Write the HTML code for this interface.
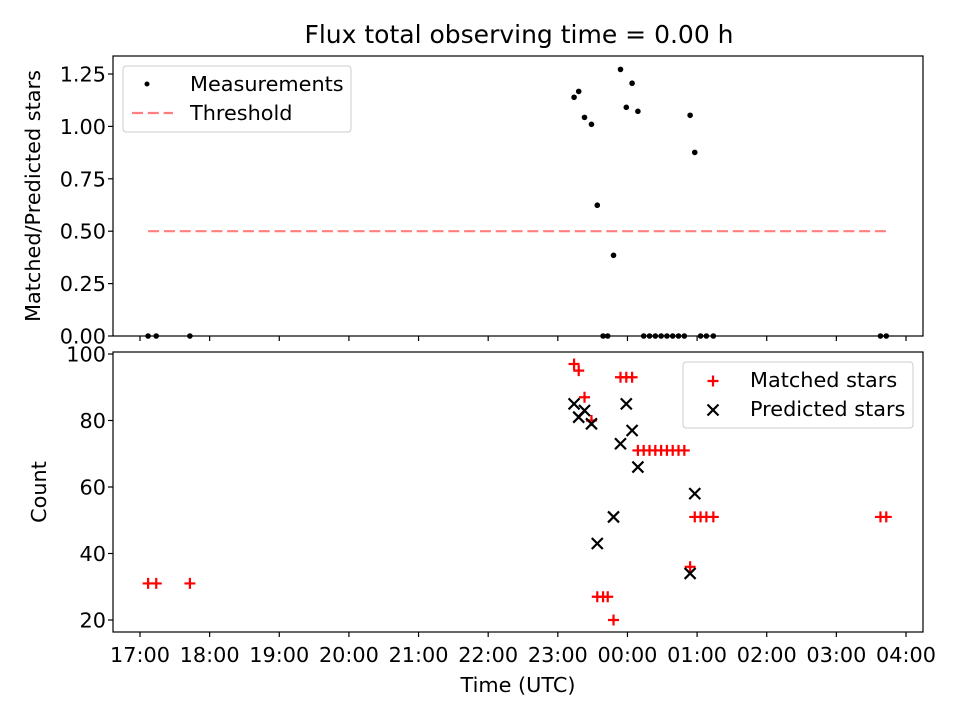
<!DOCTYPE html>
<html><head><meta charset="utf-8"><style>
body{margin:0;background:#fff;}
svg{display:block;font-family:"DejaVu Sans","Liberation Sans",sans-serif;}
</style></head><body>
<svg id="chart" width="960" height="720"></svg>
<script>
// minutes since 17:00 UTC
const times = [7,14,43,374,378,383,389,394,399,403,408,414,419,424,429,434,439,444,449,454,459,464,469,474,478,483,488,494,498,503,508,638,643];
const matched = [31,31,31,97,95,87,80,27,27,27,20,93,93,93,71,71,71,71,71,71,71,71,71,36,51,51,51,51,null,null,null,51,51];
const predicted = [null,null,null,85,81,83,79,43,null,null,51,73,85,77,66,null,null,null,null,null,null,null,null,34,58,null,null,null,null,null,null,null,null];
const ratio = [0,0,0,1.139,1.167,1.043,1.010,0.624,0,0,0.385,1.272,1.091,1.206,1.072,0,0,0,0,0,0,0,0,1.053,0.876,0,0,0,null,null,null,0,0];
const threshold = 0.5;
const xTickLabels = ["17:00","18:00","19:00","20:00","21:00","22:00","23:00","00:00","01:00","02:00","03:00","04:00"];
const topTicks = [0,0.25,0.5,0.75,1.0,1.25];
const botTicks = [20,40,60,80,100];
</script>
<script>
const NS="http://www.w3.org/2000/svg";
const svg=document.getElementById('chart');
function el(t,a,p){const e=document.createElementNS(NS,t);for(const k in a)e.setAttribute(k,a[k]);(p||svg).appendChild(e);return e;}
const L=113,R=923,T1=56,B1=336,T2=352,B2=632;
const FS='20.8';
const DASH='11,4.8';
const xs=m=>140+m*(766/660);
const y1=v=>336-v*209.6;
const y2=v=>620-(v-20)*3.325;

let t=el('text',{x:519,y:43,'text-anchor':'middle','font-size':'25'});t.textContent="Flux total observing time = 0.00 h";


// top panel
let g1=el('g',{});

let ln=el('line',{x1:xs(times[0]),x2:xs(times[times.length-1]),y1:y1(threshold),y2:y1(threshold),stroke:'#ff7f7f','stroke-width':2.2,'stroke-dasharray':DASH},g1);

ratio.forEach((v,i)=>{if(v===null)return;const c=el('circle',{cx:xs(times[i]),cy:y1(v),r:2.8,fill:'#000'},g1);
});
el('rect',{x:L,y:T1,width:R-L,height:B1-T1,fill:'none',stroke:'#000','stroke-width':1.2},g1);
topTicks.forEach(v=>{const y=y1(v);el('line',{x1:L-5,x2:L,y1:y,y2:y,stroke:'#000','stroke-width':1.2},g1);
const tx=el('text',{x:L-7,y:y+7.5,'text-anchor':'end','font-size':FS},g1);tx.textContent=v.toFixed(2);
});
xTickLabels.forEach((s,i)=>{const x=xs(i*60);el('line',{x1:x,x2:x,y1:B1,y2:B1+5,stroke:'#000','stroke-width':1.2},g1);});
let yt=el('text',{transform:'translate(40,196) rotate(-90)','text-anchor':'middle','font-size':FS},g1);yt.textContent="Matched/Predicted stars";

// legend top
let lg=el('g',{},g1);
el('rect',{x:123,y:66,width:228,height:66,rx:3,fill:'#fff',stroke:'#ccc'},lg);
el('circle',{cx:147,cy:84,r:2.5,fill:'#000'},lg);
let lt=el('text',{x:190,y:91,'font-size':FS},lg);lt.textContent="Measurements";
el('line',{x1:132,x2:173,y1:113,y2:113,stroke:'#ff7f7f','stroke-width':2.2,'stroke-dasharray':DASH},lg);
lt=el('text',{x:190,y:120,'font-size':FS},lg);lt.textContent="Threshold";

// bottom panel
let g2=el('g',{});

function plus(x,y,p){el('path',{d:`M${x-5.5},${y}H${x+5.5}M${x},${y-5.5}V${y+5.5}`,stroke:'#f00','stroke-width':2.2},p);}
function cross(x,y,p){el('path',{d:`M${x-5.5},${y-5.5}L${x+5.5},${y+5.5}M${x-5.5},${y+5.5}L${x+5.5},${y-5.5}`,stroke:'#000','stroke-width':2.2},p);}
matched.forEach((v,i)=>{if(v===null)return;const g=el('g',{},g2);plus(xs(times[i]),y2(v),g);});
predicted.forEach((v,i)=>{if(v===null)return;const g=el('g',{},g2);cross(xs(times[i]),y2(v),g);});
el('rect',{x:L,y:T2,width:R-L,height:B2-T2,fill:'none',stroke:'#000','stroke-width':1.2},g2);
botTicks.forEach(v=>{const y=y2(v);el('line',{x1:L-5,x2:L,y1:y,y2:y,stroke:'#000','stroke-width':1.2},g2);
const tx=el('text',{x:L-7,y:y+7.5,'text-anchor':'end','font-size':FS},g2);tx.textContent=v;
});
xTickLabels.forEach((s,i)=>{const x=xs(i*60);el('line',{x1:x,x2:x,y1:B2,y2:B2+5,stroke:'#000','stroke-width':1.2},g2);
const tx=el('text',{x:x,y:B2+30,'text-anchor':'middle','font-size':FS},g2);tx.textContent=s;
});
let xt=el('text',{x:518,y:692,'text-anchor':'middle','font-size':FS},g2);xt.textContent="Time (UTC)";

let yt2=el('text',{transform:'translate(46,492) rotate(-90)','text-anchor':'middle','font-size':FS},g2);yt2.textContent="Count";

let lg2=el('g',{},g2);
el('rect',{x:683,y:362,width:230,height:66,rx:3,fill:'#fff',stroke:'#ccc'},lg2);
plus(713,381,lg2);
lt=el('text',{x:750,y:387,'font-size':FS},lg2);lt.textContent="Matched stars";
cross(713,410,lg2);
lt=el('text',{x:750,y:416,'font-size':FS},lg2);lt.textContent="Predicted stars";
</script>
</body></html>
